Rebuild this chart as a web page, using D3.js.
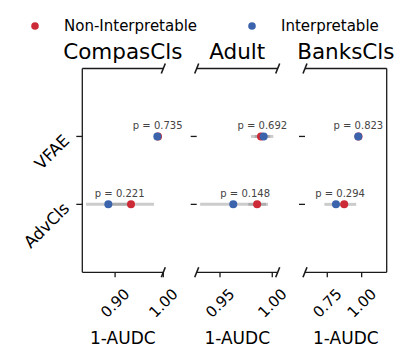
<!DOCTYPE html>
<html>
<head>
<meta charset="utf-8">
<script src="https://cdn.jsdelivr.net/npm/d3@7"></script>
<style>
  body { margin: 0; background: #fff; }
  svg { display: block; font-family: "DejaVu Sans", sans-serif; }
</style>
</head>
<body>
<svg id="chart" width="407" height="361"></svg>
<script>
// data, indexed [dataset][method]
const datasets = ["CompasCls", "Adult", "BanksCls"];
const methods = ["AdvCls", "VFAE"];
const nonInterpMean = [[0.933, 0.989], [0.9855, 0.9892], [0.873, 0.977]];
const nonInterpLo = [[0.886, 0.9875], [0.977, 0.9796], [0.79, 0.974]];
const nonInterpHi = [[0.9807, 0.9905], [0.996, 0.998], [0.96, 0.98]];
const interpMean = [[0.886, 0.9876], [0.9627, 0.9918], [0.813, 0.975]];
const interpLo = [[0.8397, 0.986], [0.931, 0.983], [0.729, 0.972]];
const interpHi = [[0.9331, 0.9895], [0.994, 1.001], [0.897, 0.978]];
const pValues = [["0.221", "0.735"], ["0.148", "0.692"], ["0.294", "0.823"]];
const xDomains = [[0.832, 1.0], [0.9277, 1.0052], [0.588, 1.182]];
const xTicks = [[0.90, 1.00], [0.95, 1.00], [0.75, 1.00]];

const RED = "#cc2a36";
const BLUE = "#3b64ad";
const AXIS = "#1a1a1a";

const svg = d3.select("#chart");
const yTop = 68.5, yBottom = 272.3;
const panelX = [[82.3, 163.3], [196.7, 277.7], [305, 386.7]];

const y = d3.scaleLinear().domain([-1, 2]).range([yBottom, yTop]);

// legend
const legend = [["Non-Interpretable", RED, 35, 64], ["Interpretable", BLUE, 252, 281]];
legend.forEach(([label, color, cx, tx]) => {
    svg.append("circle").attr("cx", cx).attr("cy", 26).attr("r", 3.8).attr("fill", color);
    svg.append("text").attr("x", tx).attr("y", 31).attr("font-size", "15px")
        .attr("fill", "#000").text(label);
});

function brk(g, x, yy) {
    g.append("line")
        .attr("x1", x - 2).attr("y1", yy + 5)
        .attr("x2", x + 2).attr("y2", yy - 5)
        .attr("stroke", AXIS).attr("stroke-width", 1.6);
}

datasets.forEach((name, i) => {
    const [x0, x1] = panelX[i];
    const x = d3.scaleLinear().domain(xDomains[i]).range([x0, x1]);
    const g = svg.append("g");

    // title
    g.append("text").attr("x", (x0 + x1) / 2).attr("y", 59)
        .attr("text-anchor", "middle").attr("font-size", "21.5px").text(name);

    // top & bottom spines
    [yTop, yBottom].forEach(yy => {
        g.append("line").attr("x1", x0).attr("x2", x1).attr("y1", yy).attr("y2", yy)
            .attr("stroke", AXIS).attr("stroke-width", 1.3);
    });
    if (i === 0) {
        g.append("line").attr("x1", x0).attr("x2", x0).attr("y1", yTop).attr("y2", yBottom)
            .attr("stroke", AXIS).attr("stroke-width", 1.3);
    } else {
        brk(g, x0, yTop); brk(g, x0, yBottom);
    }
    if (i === datasets.length - 1) {
        g.append("line").attr("x1", x1).attr("x2", x1).attr("y1", yTop).attr("y2", yBottom)
            .attr("stroke", AXIS).attr("stroke-width", 1.3);
    } else {
        brk(g, x1, yTop); brk(g, x1, yBottom);
    }

    // y ticks
    methods.forEach((m, j) => {
        g.append("line").attr("x1", x0 - 6).attr("x2", x0).attr("y1", y(j)).attr("y2", y(j))
            .attr("stroke", AXIS).attr("stroke-width", 1.3);
        if (i === 0) {
            g.append("text")
                .attr("transform", `translate(${x0 - 16},${y(j) + 1}) rotate(-45)`)
                .attr("text-anchor", "end").attr("dy", "0.35em")
                .attr("font-size", "16.5px").text(m);
        }
    });

    // x ticks
    xTicks[i].forEach(t => {
        g.append("line").attr("x1", x(t)).attr("x2", x(t)).attr("y1", yBottom).attr("y2", yBottom + 5)
            .attr("stroke", AXIS).attr("stroke-width", 1.3);
        g.append("text")
            .attr("transform", `translate(${x(t)},303) rotate(-45)`)
            .attr("text-anchor", "middle").attr("dy", "0.35em")
            .attr("font-size", "15px").text(d3.format(".2f")(t));
    });

    g.append("text").attr("x", (x0 + x1) / 2).attr("y", 344)
        .attr("text-anchor", "middle").attr("font-size", "17px").text("1-AUDC");

    // CI bars
    methods.forEach((m, j) => {
        [[nonInterpLo, nonInterpHi], [interpLo, interpHi]].forEach(([lo, hi]) => {
            g.append("line")
                .attr("x1", x(lo[i][j])).attr("x2", x(hi[i][j]))
                .attr("y1", y(j)).attr("y2", y(j))
                .attr("stroke", "#808080").attr("stroke-opacity", 0.4).attr("stroke-width", 3);
        });
    });

    // points
    methods.forEach((m, j) => {
        g.append("circle").attr("cx", x(nonInterpMean[i][j])).attr("cy", y(j))
            .attr("r", 4).attr("fill", RED);
    });
    methods.forEach((m, j) => {
        g.append("circle").attr("cx", x(interpMean[i][j])).attr("cy", y(j))
            .attr("r", 4).attr("fill", BLUE);
    });

    // p labels
    methods.forEach((m, j) => {
        const cx = (x(nonInterpMean[i][j]) + x(interpMean[i][j])) / 2;
        g.append("text").attr("x", cx).attr("y", y(j) - 7.5)
            .attr("text-anchor", "middle").attr("font-size", "10px")
            .attr("fill", "#444").text("p = " + pValues[i][j]);
    });
});
</script>
</body>
</html>
